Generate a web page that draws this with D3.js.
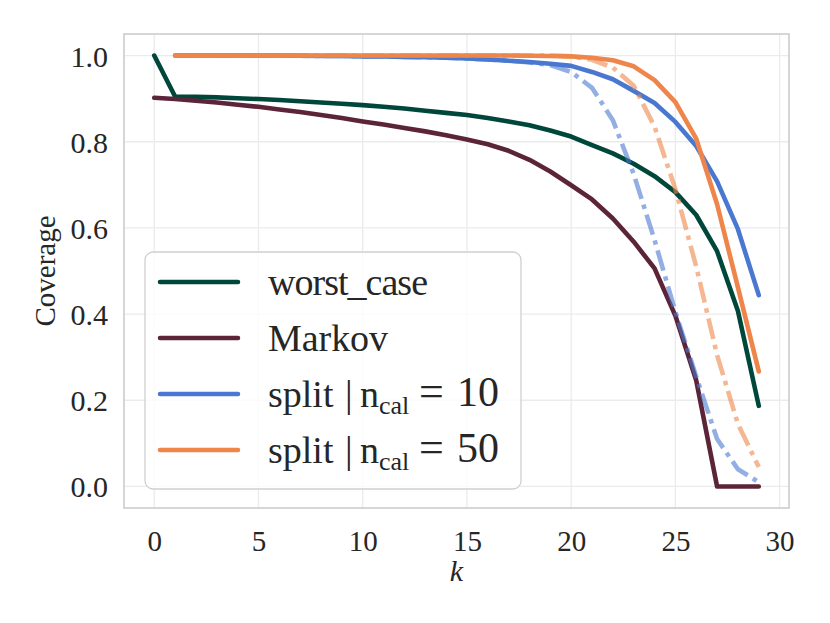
<!DOCTYPE html>
<html>
<head>
<meta charset="utf-8">
<script src="https://cdn.jsdelivr.net/npm/d3@7"></script>
<style>
  body { margin: 0; background: #fff; }
  text { font-family: "Liberation Serif", "DejaVu Serif", serif; fill: #262626; }
</style>
</head>
<body>
<script>
// coverage per k
var ks = d3.range(0, 30);
var worstCase = [1.0, 0.905, 0.904, 0.903, 0.901, 0.899, 0.897, 0.894, 0.891, 0.888,
                 0.885, 0.881, 0.877, 0.872, 0.867, 0.862, 0.855, 0.847, 0.838, 0.826,
                 0.812, 0.792, 0.773, 0.749, 0.72, 0.683, 0.63, 0.546, 0.407, 0.187];
var markov = [0.902, 0.899, 0.895, 0.891, 0.886, 0.881, 0.875, 0.869, 0.862, 0.855,
              0.847, 0.840, 0.832, 0.824, 0.815, 0.805, 0.794, 0.779, 0.758, 0.731,
              0.699, 0.666, 0.622, 0.568, 0.506, 0.396, 0.246, 0.0, 0.0, 0.0];
// split curves start at k = 1
var splitKs = d3.range(1, 30);
var split10 = [1.0, 1.0, 1.0, 1.0, 1.0, 1.0, 0.9995, 0.999, 0.999, 0.998,
               0.998, 0.997, 0.996, 0.995, 0.993, 0.991, 0.988, 0.985, 0.981, 0.976,
               0.962, 0.945, 0.918, 0.89, 0.846, 0.79, 0.708, 0.597, 0.444];
var split10Alt = [1.0, 1.0, 1.0, 1.0, 1.0, 1.0, 0.9995, 0.999, 0.999, 0.998,
                  0.998, 0.997, 0.996, 0.995, 0.993, 0.991, 0.988, 0.984, 0.978, 0.962,
                  0.925, 0.85, 0.725, 0.572, 0.405, 0.255, 0.11, 0.04, 0.01];
var split50 = [1.0, 1.0, 1.0, 1.0, 1.0, 1.0, 1.0, 1.0, 1.0, 1.0,
               1.0, 1.0, 1.0, 1.0, 1.0, 1.0, 1.0, 0.9995, 0.999, 0.998,
               0.995, 0.989, 0.975, 0.943, 0.892, 0.807, 0.655, 0.462, 0.267];
var split50Alt = [1.0, 1.0, 1.0, 1.0, 1.0, 1.0, 1.0, 1.0, 1.0, 1.0,
                  1.0, 1.0, 1.0, 1.0, 1.0, 1.0, 1.0, 1.0, 1.0, 0.998,
                  0.99, 0.972, 0.93, 0.835, 0.69, 0.51, 0.305, 0.145, 0.045];

var xTicks = [0, 5, 10, 15, 20, 25, 30];
var yTicks = [0.0, 0.2, 0.4, 0.6, 0.8, 1.0];

var margin = {top: 34, right: 41, bottom: 115, left: 124},
    width = 830 - margin.left - margin.right,
    height = 623 - margin.top - margin.bottom;

var svg = d3.select("body").append("svg")
    .attr("width", 830)
    .attr("height", 623)
  .append("g")
    .attr("transform", "translate(" + margin.left + "," + margin.top + ")");

var x = d3.scaleLinear().domain([-1.45, 30.45]).range([0, width]);
var y = d3.scaleLinear().domain([-0.05, 1.05]).range([height, 0]);

// grid
svg.append("g").selectAll("line").data(xTicks).enter().append("line")
    .attr("x1", function(d) { return x(d); }).attr("x2", function(d) { return x(d); })
    .attr("y1", 0).attr("y2", height)
    .style("stroke", "#ebebeb").style("stroke-width", 1.3);
svg.append("g").selectAll("line").data(yTicks).enter().append("line")
    .attr("y1", function(d) { return y(d); }).attr("y2", function(d) { return y(d); })
    .attr("x1", 0).attr("x2", width)
    .style("stroke", "#ebebeb").style("stroke-width", 1.3);

// axes (labels only, no tick marks)
var xAxis = d3.axisBottom(x).tickValues(xTicks).tickSize(0).tickPadding(22)
    .tickFormat(d3.format("d"));
var yAxis = d3.axisLeft(y).tickValues(yTicks).tickSize(0).tickPadding(16)
    .tickFormat(d3.format(".1f"));

svg.append("g").attr("transform", "translate(0," + height + ")").call(xAxis)
  .call(function(g) { g.select(".domain").remove(); })
  .selectAll("text").style("font-size", "29px").style("font-family", "Liberation Serif").attr("fill", "#262626");
svg.append("g").call(yAxis)
  .call(function(g) { g.select(".domain").remove(); })
  .selectAll("text").style("font-size", "30px").style("font-family", "Liberation Serif").attr("fill", "#262626")
  .attr("dy", "0.35em");

// frame
svg.append("rect").attr("x", 0).attr("y", 0).attr("width", width).attr("height", height)
    .style("fill", "none").style("stroke", "#cccccc").style("stroke-width", 1.6);

// lines
var series = [
  {xs: ks, ys: worstCase, color: "#00473b", dash: null, opacity: 1},
  {xs: ks, ys: markov, color: "#5c2439", dash: null, opacity: 1},
  {xs: splitKs, ys: split10, color: "#4a78d0", dash: null, opacity: 1},
  {xs: splitKs, ys: split10Alt, color: "#4a78d0", dash: "21,6,4.5,6", opacity: 0.6},
  {xs: splitKs, ys: split50, color: "#ee854a", dash: null, opacity: 1},
  {xs: splitKs, ys: split50Alt, color: "#ee854a", dash: "21,6,4.5,6", opacity: 0.6}
];

var line = d3.line()
    .x(function(d) { return x(d[0]); })
    .y(function(d) { return y(d[1]); });

series.forEach(function(s) {
  svg.append("path")
    .datum(d3.zip(s.xs, s.ys))
    .attr("d", line)
    .style("fill", "none")
    .style("stroke", s.color)
    .style("stroke-width", 4.6)
    .style("stroke-linecap", s.dash ? "butt" : "round")
    .style("stroke-linejoin", "round")
    .style("stroke-dasharray", s.dash)
    .style("opacity", s.opacity);
});

// legend
var legendItems = [
  {label: "worst_case", color: "#00473b"},
  {label: "Markov", color: "#5c2439"},
  {label: "split", sub: "cal", rest: "10", color: "#4a78d0"},
  {label: "split", sub: "cal", rest: "50", color: "#ee854a"}
];

var lg = svg.append("g").attr("transform", "translate(" + (145 - margin.left) + "," + (252 - margin.top) + ")");
lg.append("rect").attr("width", 376).attr("height", 237).attr("rx", 8)
    .style("fill", "#fff").style("fill-opacity", 0.8)
    .style("stroke", "#d0d0d0").style("stroke-width", 1.3);

var rows = lg.selectAll(".legend").data(legendItems).enter().append("g")
    .attr("class", "legend")
    .attr("transform", function(d, i) { return "translate(0," + (30 + i * 56) + ")"; });
rows.append("line").attr("x1", 15).attr("x2", 93)
    .style("stroke", function(d) { return d.color; })
    .style("stroke-width", 4.5).style("stroke-linecap", "round");
var t = rows.append("text").attr("x", 123).attr("dy", "0.34em")
    .style("font-size", "38px");
t.append("tspan")
    .attr("textLength", function(d) { return d.sub ? null : (d.label === "Markov" ? 120 : 160); })
    .text(function(d) { return d.label; });
var m = t.filter(function(d) { return d.sub; });
m.append("tspan").attr("x", 200).text("|");
m.append("tspan").attr("x", 215).text("n");
m.append("tspan").attr("dy", "0.28em").style("font-size", "26px").text(function(d) { return d.sub; });
m.append("tspan").attr("x", 274).attr("dy", "-0.19em").style("font-size", "44px").text("=");
m.append("tspan").attr("x", 312).style("font-size", "42px").text(function(d) { return d.rest; });

// axis titles
svg.append("text")
    .attr("x", width / 2).attr("y", height + 73)
    .attr("text-anchor", "middle")
    .style("font-size", "30px").style("font-style", "italic")
    .text("k");
svg.append("text")
    .attr("transform", "rotate(-90)")
    .attr("x", -(271 - margin.top)).attr("y", 45 - margin.left + 10)
    .attr("text-anchor", "middle")
    .style("font-size", "29px")
    .text("Coverage");
</script>
</body>
</html>
